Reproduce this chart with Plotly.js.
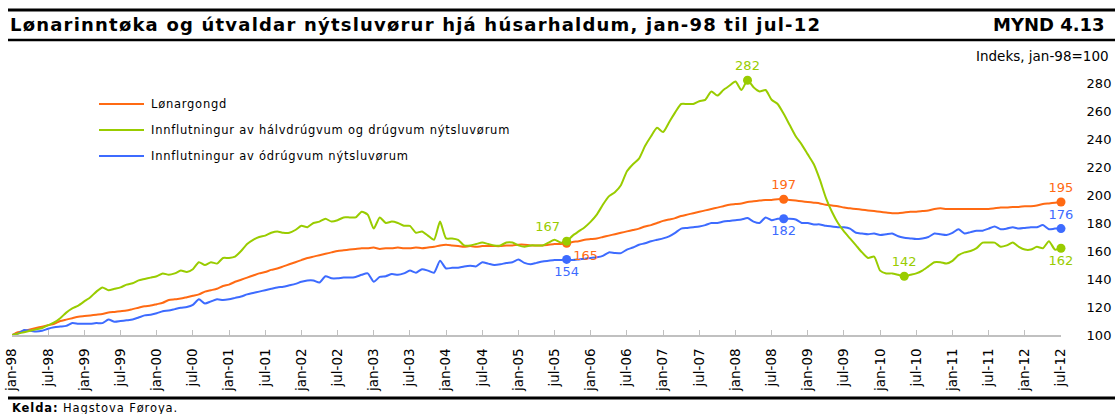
<!DOCTYPE html>
<html>
<head>
<meta charset="utf-8">
<script src="https://cdn.plot.ly/plotly-3.0.1.min.js"></script>
<style>
html,body{margin:0;padding:0;background:#fff;}
#chart{width:1115px;height:414px;}
#chart .gtitle{letter-spacing:1.2px;}
</style>
</head>
<body>
<div id="chart"></div>
<script>
// Month index 0 = jan-98 ... 174 = jul-12
const tickLabels = ['jan-98','jul-98','jan-99','jul-99','jan-00','jul-00','jan-01','jul-01','jan-02','jul-02',
  'jan-03','jul-03','jan-04','jul-04','jan-05','jul-05','jan-06','jul-06','jan-07','jul-07',
  'jan-08','jul-08','jan-09','jul-09','jan-10','jul-10','jan-11','jul-11','jan-12','jul-12'];

const seriesNames = ['Lønargongd',
  'Innflutningur av hálvdrúgvum og drúgvum nýtsluvørum',
  'Innflutningur av ódrúgvum nýtsluvørum'];

const wages = [100,102,103,104,105,106,107,108,110,111,
  112,113,113.5,114,114.5,115,116,116.5,117,117.5,
  118.5,119.5,120.5,121,122,123,125,125.5,126,127,
  128,129,131,132,133,135,136,138,139.5,141,
  142.5,144,145,146.5,147.5,149,150.5,152,153.5,155,
  156,157,158,159,160,160.5,161,161.5,162,162,
  162.5,161.5,162,162,162.5,162,162,162.5,162,162.5,
  163,164,164.5,164,163.5,163,163.5,163,163.5,163.5,
  163.5,163.5,164,164,164.5,164.5,164,164,164,164.5,
  165,165,165.5,166.5,167,168,168.5,169,170,171,
  172,173,174,175,176,177.5,178.5,180,181.5,182.5,
  183.5,185,186,187,188,189,190,191,192,193,
  193.5,194,195,195.5,196,196.5,196.5,197,197,196.5,
  196,195.5,195,194.5,194,193,192.5,192,191,190.5,
  190,189.5,189,188.5,188,187.5,187,187,187.5,188,
  188,188.5,189,190,190.5,190,190,190,190,190,
  190,190,190,190.5,191,191,191.5,191.5,192,192,
  192.5,193.5,194,194.5,195];

const durables = [100,101,102,103,104,105,107,109,112,116,
  119,121,124,127,131,134,132,133,134,136,
  137,139,140,141,142,144,143,144,146,145,
  147,152,150,152,151,155,155,156,160,165,
  168,170,171,173,174,173,173,175,178,177,
  180,181,183,181,182,184,184,184,188,186,
  176,184,180,181,180,178,178,173,174,171,
  168,181,169,169,168,164,164,165,166,165,
  164,164,166,166,164,163,164,164,164,166,
  168,166,167,171,174,177,181,186,193,199,
  202,207,217,222,226,235,242,248,245,252,
  259,265,265,265,267,268,274,271,275,278,
  281,275,282,277,274,275,268,265,258,250,
  242,236,229,222,211,198,188,180,174,169,
  164,159,155,156,146,144,144,143,142,143,
  144,146,149,152,152,151,153,157,159,160,
  162,166,166,166,163,164,166,163,161,161,
  163,162,167,161,162];

const nonDurables = [100,101,103.5,103,102.5,103,104.5,105.5,106,106.5,
  108.5,108,108,108,108.5,108.5,111,109.5,110,110.5,
  111,112.5,114,114.5,115.5,117,117.5,118.5,119.5,120,
  121.5,125.5,122.5,124,125.5,125,125.5,126.5,127.5,129,
  130,131,132,133,134,134.5,135.5,136.5,138,139,
  139,137.5,142,140.5,140.5,141,141,141.5,143,144,
  138,141.5,142,143.5,143,144,146,144.5,147,146,
  144.5,153,147.5,148,148,149,149.5,149,152,151,
  150,150.5,151.5,152,154,151.5,150.5,151.5,152.5,153,
  153.5,153.5,154,153.5,154,154.5,155,155.5,156.5,159,
  158.5,158.5,161,162.5,164.5,165.5,167,168,169,170.5,
  173,176,176.5,177,177.5,178.5,180,180,181,181.5,
  182,182.5,183.5,181,180,184,182,183,183,183,
  182.5,180,180,179,179,178,177.5,177,177,176,
  173,172.5,172,172.5,171.5,172,172.5,170.5,169.5,169,
  168.5,169,170,172.5,172,171.5,173,175.5,172.5,173.5,
  174.5,174.5,176,177.5,175.5,176,177,176,176.5,177,
  177,178.5,175.5,176,176];

// highlighted points (month index) and their printed labels
const wagesMarks = [92,128,174];
const wagesLabels = ['165','197','195'];
const durMarks = [92,122,148,174];
const durLabels = ['167','282','142','162'];
const nonDurMarks = [92,128,174];
const nonDurLabels = ['154','182','176'];

const colors = {wages:'#ff6a13', dur:'#99cc00', nondur:'#3d6bff'};
const months = wages.map((_, i) => i);
const tickVals = tickLabels.map((_, i) => i * 6);

function lineTrace(y, color, name) {
  return {x: months, y: y, type: 'scatter', mode: 'lines', name: name,
    line: {color: color, width: 2, shape: 'spline', smoothing: 0.6},
    hoverinfo: 'skip', showlegend: false};
}
function markTrace(idx, data, labels, color, positions) {
  return {x: idx, y: idx.map(i => data[i]), type: 'scatter', mode: 'markers+text',
    marker: {color: color, size: 9}, text: labels, textposition: positions,
    textfont: {family: 'DejaVu Sans', size: 13, color: color},
    cliponaxis: false, showlegend: false, hoverinfo: 'skip'};
}

const traces = [
  lineTrace(wages, colors.wages, seriesNames[0]),
  lineTrace(nonDurables, colors.nondur, seriesNames[2]),
  lineTrace(durables, colors.dur, seriesNames[1]),
  markTrace(wagesMarks, wages, wagesLabels, colors.wages, ['bottom right','top center','top center']),
  markTrace(nonDurMarks, nonDurables, nonDurLabels, colors.nondur, ['bottom center','bottom center','top center']),
  markTrace(durMarks, durables, durLabels, colors.dur, ['top left','top center','top center','bottom center'])
];

// plot area: x 12..1061, y 55..335 (px)
const L = 12, R = 1061, T = 55, B = 335;
const W = R - L, H = B - T;
const px = x => (x - L) / W;
const py = y => (B - y) / H;

const legendColors = [colors.wages, colors.dur, colors.nondur];
const legendYs = [104, 130, 156];
const shapes = [
  {type:'line', xref:'paper', yref:'paper', x0:px(8), x1:px(1115), y0:py(10), y1:py(10), line:{color:'#000', width:3}},
  {type:'line', xref:'paper', yref:'paper', x0:px(8), x1:px(1115), y0:py(40), y1:py(40), line:{color:'#000', width:2.5}},
  {type:'line', xref:'paper', yref:'paper', x0:px(8), x1:px(1115), y0:py(398), y1:py(398), line:{color:'#000', width:3}}
];
const annotations = [
  {xref:'paper', yref:'paper', x:px(1107), y:py(25), xanchor:'right', yanchor:'middle', showarrow:false,
   text:'<b>MYND 4.13</b>', font:{family:'DejaVu Sans', size:18, color:'#000'}},
  {xref:'paper', yref:'paper', x:px(1111), y:py(56), xanchor:'right', yanchor:'middle', showarrow:false,
   text:'Indeks, jan-98=100', font:{family:'DejaVu Sans', size:13.5, color:'#000'}},
  {xref:'paper', yref:'paper', x:px(10), y:py(407.5), xanchor:'left', yanchor:'middle', showarrow:false,
   text:'<b>Kelda:</b> Hagstova Føroya.', font:{family:'DejaVu Sans', size:11.5, color:'#000'}}
];
legendYs.forEach((y, i) => {
  shapes.push({type:'line', xref:'paper', yref:'paper', x0:px(99), x1:px(144), y0:py(y), y1:py(y),
    line:{color: legendColors[i], width:2}});
  annotations.push({xref:'paper', yref:'paper', x:px(149), y:py(y), xanchor:'left', yanchor:'middle',
    showarrow:false, text: seriesNames[i],
    font:{family:'DejaVu Sans', size:11.5, color:'#000'}});
});

const layout = {
  width: 1115, height: 414,
  margin: {l: L, r: 1115 - R, t: T, b: 414 - B, pad: 0},
  paper_bgcolor: '#fff', plot_bgcolor: '#fff',
  title: {text: '<b>Lønarinntøka og útvaldar nýtsluvørur hjá húsarhaldum, jan-98 til jul-12</b>',
    xref: 'container', yref: 'container', x: 10/1115, xanchor: 'left', y: 1 - 25/414, yanchor: 'middle',
    font: {family: 'DejaVu Sans', size: 18, color: '#000'}},
  showlegend: false,
  xaxis: {range: [0, 174], tickvals: tickVals, ticktext: tickLabels, tickangle: -90,
    showgrid: false, zeroline: false, showline: true, linecolor: '#c0c0c0', linewidth: 2,
    ticks: 'inside', ticklen: 5, tickcolor: '#c0c0c0', tickwidth: 1,
    tickfont: {family: 'DejaVu Sans', size: 13.5, color: '#000'}, ticklabelstandoff: 6,
    fixedrange: true},
  yaxis: {range: [100, 300], side: 'right', tickvals: [100,120,140,160,180,200,220,240,260,280],
    showgrid: false, zeroline: false, showline: false,
    ticks: 'outside', ticklen: 22, tickcolor: 'rgba(0,0,0,0)',
    tickfont: {family: 'DejaVu Sans', size: 13, color: '#000'}, fixedrange: true},
  shapes: shapes,
  annotations: annotations
};

// widen letter spacing of left-anchored texts while keeping their left edge fixed
function spaceOut(indexSpacing) {
  Object.keys(indexSpacing).forEach(idx => {
    const t = document.querySelector('#chart g.annotation[data-index="' + idx + '"] text.annotation-text');
    if (!t) return;
    const before = t.getBBox();
    t.style.letterSpacing = indexSpacing[idx] + 'px';
    const after = t.getBBox();
    const shift = before.x - after.x;
    const x0 = parseFloat(t.getAttribute('x')) || 0;
    t.setAttribute('x', x0 + shift);
    t.querySelectorAll('tspan[x]').forEach(s => {
      const sx = parseFloat(s.getAttribute('x'));
      if (!isNaN(sx)) s.setAttribute('x', sx + shift);
    });
  });
}

Plotly.newPlot('chart', traces, layout, {displayModeBar: false, staticPlot: true})
  .then(() => spaceOut({2: 0.9, 3: 0.75, 4: 0.75, 5: 0.75}));
</script>
</body>
</html>
